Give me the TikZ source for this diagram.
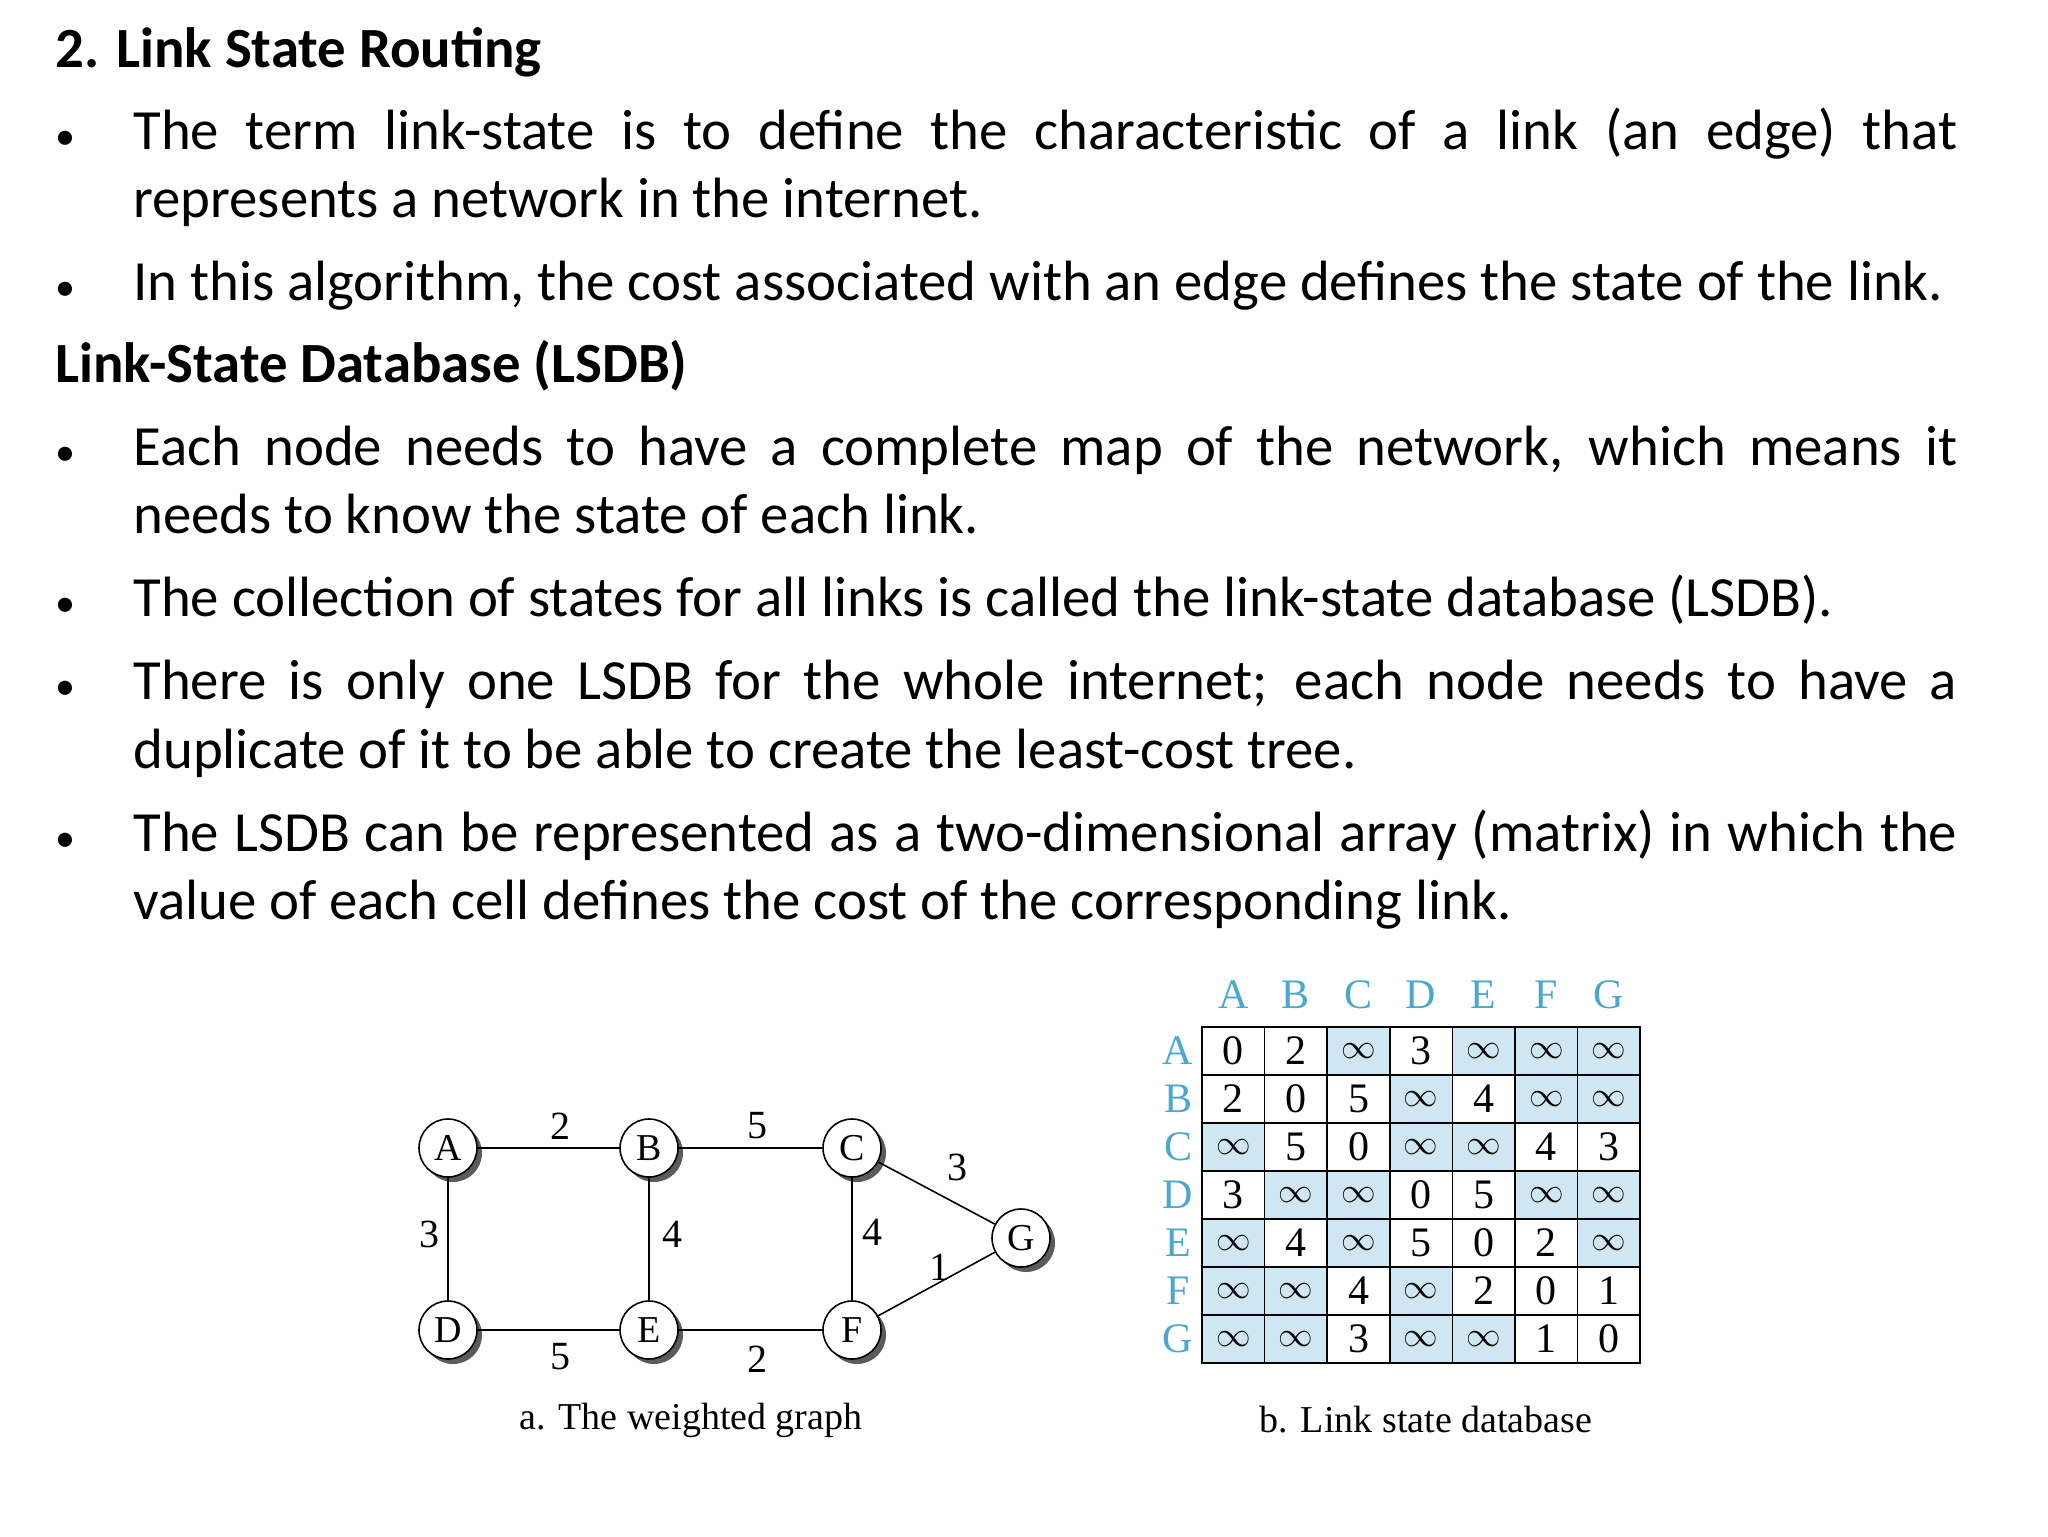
\documentclass[tikz,border=0pt]{standalone}
\usepackage{fontspec}
\setmainfont{Carlito}
\newfontfamily\tms{Liberation Serif}
\usetikzlibrary{shadows}
\definecolor{cellblue}{HTML}{CFE6F3}
\definecolor{hdrblue}{HTML}{4AA8D0}
\begin{document}
\begin{tikzpicture}[x=0.5pt,y=-0.5pt,
  txt/.style={anchor=base west,inner sep=0pt,font=\fontsize{28.4}{32}\selectfont},
  bul/.style={anchor=base west,inner sep=0pt,font=\fontsize{20}{24}\selectfont},
  hd/.style={txt,font=\fontsize{28.4}{32}\selectfont\bfseries},
  gnode/.style={circle,draw,thick,fill=white,minimum size=29pt,inner sep=0pt,font=\tms\fontsize{19}{19}\selectfont,
     drop shadow={shadow xshift=2.5pt,shadow yshift=-2.5pt,fill=black!80,opacity=0.8}},
  wlab/.style={font=\tms\fontsize{20}{20}\selectfont,inner sep=0pt},
  edge/.style={thick},
  cell/.style={draw,thick,minimum width=31.3pt,minimum height=24pt,inner sep=0pt,font=\tms\fontsize{21}{21}\selectfont},
  inf/.style={cell,fill=cellblue,font=\fontsize{17}{17}\selectfont},
  hdr/.style={text=hdrblue,inner sep=0pt,font=\tms\fontsize{21}{21}\selectfont},
  captxt/.style={font=\tms\fontsize{19}{19}\selectfont,inner sep=0pt}]
\useasboundingbox (0,0) rectangle (2048,1536);
\fill[white] (0,0) rectangle (2048,1536);
\def\J#1{\makebox[912pt][s]{#1}}
\node[hd] (t1) at (55,68) {2. Link State Routing};
\node[bul] (b1) at (55,149) {•};
\node[txt] (l1) at (133,149) {\J{The term link-state is to define the characteristic of a link (an edge) that}};
\node[txt] (l2) at (133,217) {represents a network in the internet.};
\node[bul] (b2) at (55,300) {•};
\node[txt] (l3) at (133,300) {In this algorithm, the cost associated with an edge defines the state of the link.};
\node[hd] (t2) at (55,382) {Link-State Database (LSDB)};
\node[bul] (b3) at (55,465) {•};
\node[txt] (l4) at (133,465) {\J{Each node needs to have a complete map of the network, which means it}};
\node[txt] (l5) at (133,533) {needs to know the state of each link.};
\node[bul] (b4) at (55,616) {•};
\node[txt] (l6) at (133,616) {The collection of states for all links is called the link-state database (LSDB).};
\node[bul] (b5) at (55,699) {•};
\node[txt] (l7) at (133,699) {\J{There is only one LSDB for the whole internet; each node needs to have a}};
\node[txt] (l8) at (133,768) {duplicate of it to be able to create the least-cost tree.};
\node[bul] (b6) at (55,851) {•};
\node[txt] (l9) at (133,851) {\J{The LSDB can be represented as a two-dimensional array (matrix) in which the}};
\node[txt] (l10) at (133,919) {value of each cell defines the cost of the corresponding link.};
% graph
\node[gnode] (A) at (448,1148) {A};
\node[gnode] (B) at (649,1148) {B};
\node[gnode] (C) at (852,1148) {C};
\node[gnode] (D) at (448,1330) {D};
\node[gnode] (E) at (649,1330) {E};
\node[gnode] (F) at (852,1330) {F};
\node[gnode] (G) at (1021,1238) {G};
\draw[edge] (A) -- (B); \draw[edge] (B) -- (C); \draw[edge] (A) -- (D);
\draw[edge] (B) -- (E); \draw[edge] (C) -- (F); \draw[edge] (D) -- (E);
\draw[edge] (E) -- (F); \draw[edge] (C) -- (G); \draw[edge] (F) -- (G);
\node[wlab] (w1) at (560,1126) {2};
\node[wlab] (w2) at (757,1126) {5};
\node[wlab] (w3) at (429,1234) {3};
\node[wlab] (w4) at (672,1234) {4};
\node[wlab] (w5) at (872,1232) {4};
\node[wlab] (w6) at (957,1167) {3};
\node[wlab] (w7) at (939,1267) {1};
\node[wlab] (w8) at (560,1357) {5};
\node[wlab] (w9) at (757,1359) {2};
\node[captxt] (ca) at (691,1420) {a. The weighted graph};
% matrix
\def\names{A,B,C,D,E,F,G}
\foreach \n [count=\i] in \names {
  \node[hdr] (h\n) at ({1202+62.6*(\i-0.5)},995) {\n};
  \node[hdr] (r\n) at (1178,{1027+48*(\i-0.5)}) {\n};
}
\foreach \row [count=\r] in {{0,2,i,3,i,i,i},{2,0,5,i,4,i,i},{i,5,0,i,i,4,3},{3,i,i,0,5,i,i},{i,4,i,5,0,2,i},{i,i,4,i,2,0,1},{i,i,3,i,i,1,0}} {
  \foreach \v [count=\c] in \row {
    \def\tst{i}\edef\vv{\v}
    \ifx\vv\tst
      \node[inf] (m\r-\c) at ({1202+62.6*(\c-0.5)},{1027+48*(\r-0.5)}) {$\infty$};
    \else
      \node[cell] (m\r-\c) at ({1202+62.6*(\c-0.5)},{1027+48*(\r-0.5)}) {\v};
    \fi
  }
}
\node[captxt] (cb) at (1426,1420) {b. Link state database};
\end{tikzpicture}
\end{document}
